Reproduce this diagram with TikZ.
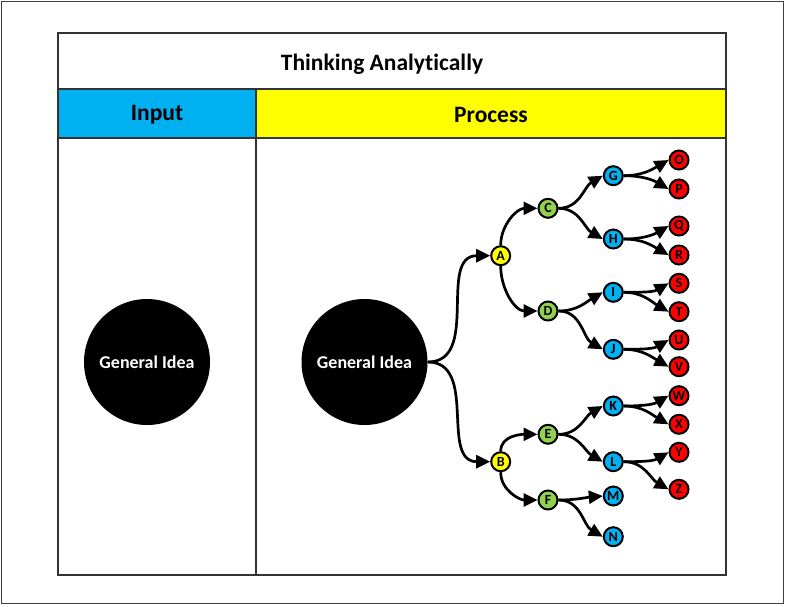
\documentclass[tikz,border=0pt]{standalone}
\usepackage{fontspec}
\setmainfont{Carlito}[Ligatures={NoCommon}]
\usetikzlibrary{arrows.meta}
\definecolor{hblue}{HTML}{00B0F0}
\definecolor{hyellow}{HTML}{FFFF00}
\definecolor{ngreen}{HTML}{92D050}
\definecolor{nred}{HTML}{FF0000}
\begin{document}
\begin{tikzpicture}[x=1pt,y=-1pt,
  frame/.style={draw=black!80, line width=1.4pt},
  big/.style={circle, fill=black, minimum size=126pt, inner sep=0pt, text=white, font=\bfseries\fontsize{18}{20}\selectfont},
  sm/.style={circle, draw=black, line width=2pt, minimum size=19pt, inner sep=0pt, font=\bfseries\fontsize{14}{15}\selectfont},
  lv1/.style={sm, fill=hyellow},
  lv2/.style={sm, fill=ngreen},
  lv3/.style={sm, fill=hblue},
  lv4/.style={sm, fill=nred},
  hdr/.style={font=\bfseries\fontsize{23.5}{26}\selectfont},
  con/.style={line width=2.7pt, -{Triangle[length=14pt 0 0,width=13pt 0 0]}},
  up/.style={con, out=0, in=210},
  dn/.style={con, out=0, in=150}
]
\useasboundingbox (0,0) rectangle (785,606);
\draw[draw=black!75, line width=1.2pt] (1.5,1.5) rectangle (783.5,603.5);
\fill[hblue] (58,89) rectangle (256,138);
\fill[hyellow] (256,89) rectangle (726,138);
\draw[frame] (58,33) rectangle (726,575);
\draw[frame] (58,89) -- (726,89);
\draw[frame] (58,138) -- (726,138);
\draw[frame] (256,89) -- (256,575);
\node[hdr] (title) at (382,64) {Thinking Analytically};
\node[hdr] (input) at (157,115) {Input};
\node[hdr] (process) at (491,115) {Process};

\node[big] (gi1) at (147,362) {General Idea};
\node[big] (gi2) at (364.5,362) {General Idea};

\node[lv1] (A) at (500.7,255.7) {A};
\node[lv1] (B) at (500.7,461.7) {B};
\node[lv2] (C) at (548,208.3) {C};
\node[lv2] (D) at (548,311) {D};
\node[lv2] (E) at (548,434.3) {E};
\node[lv2] (F) at (548,500) {F};
\node[lv3] (G) at (613.3,175.7) {G};
\node[lv3] (H) at (613.3,239) {H};
\node[lv3] (I) at (613.3,292.3) {I};
\node[lv3] (J) at (613.3,349.3) {J};
\node[lv3] (K) at (613.3,406) {K};
\node[lv3] (L) at (613.3,461.7) {L};
\node[lv3] (M) at (613.3,496) {M};
\node[lv3] (N) at (613.3,536.7) {N};
\node[lv4] (O) at (679,160) {O};
\node[lv4] (P) at (679,189) {P};
\node[lv4] (Q) at (679,226) {Q};
\node[lv4] (R) at (679,255) {R};
\node[lv4] (S) at (679,283.3) {S};
\node[lv4] (T) at (679,311.7) {T};
\node[lv4] (U) at (679,340) {U};
\node[lv4] (V) at (679,366.7) {V};
\node[lv4] (W) at (679,395.7) {W};
\node[lv4] (X) at (679,424.3) {X};
\node[lv4] (Y) at (679,452.3) {Y};
\node[lv4] (Z) at (679,489.3) {Z};

\draw[con] (gi2.east) to[out=0,in=180,looseness=1.1] (A.west);
\draw[con] (gi2.east) to[out=0,in=180,looseness=1.1] (B.west);
\draw[con] (A.north) to[out=90,in=180] (C.west);
\draw[con] (A.south) to[out=-90,in=180] (D.west);
\draw[con] (B.north) to[out=90,in=180] (E.west);
\draw[con] (B.south) to[out=-90,in=180] (F.west);
\draw[up] (C.east) to (G.west);
\draw[dn] (C.east) to (H.west);
\draw[up] (D.east) to (I.west);
\draw[dn] (D.east) to (J.west);
\draw[up] (E.east) to (K.west);
\draw[dn] (E.east) to (L.west);
\draw[con] (F.east) to[out=0,in=185] (M.west);
\draw[dn] (F.east) to (N.west);
\draw[up] (G.east) to (O.west);
\draw[dn] (G.east) to (P.west);
\draw[up] (H.east) to (Q.west);
\draw[dn] (H.east) to (R.west);
\draw[up] (I.east) to (S.west);
\draw[dn] (I.east) to (T.west);
\draw[up] (J.east) to (U.west);
\draw[dn] (J.east) to (V.west);
\draw[up] (K.east) to (W.west);
\draw[dn] (K.east) to (X.west);
\draw[up] (L.east) to (Y.west);
\draw[dn] (L.east) to (Z.west);
\end{tikzpicture}
\end{document}
